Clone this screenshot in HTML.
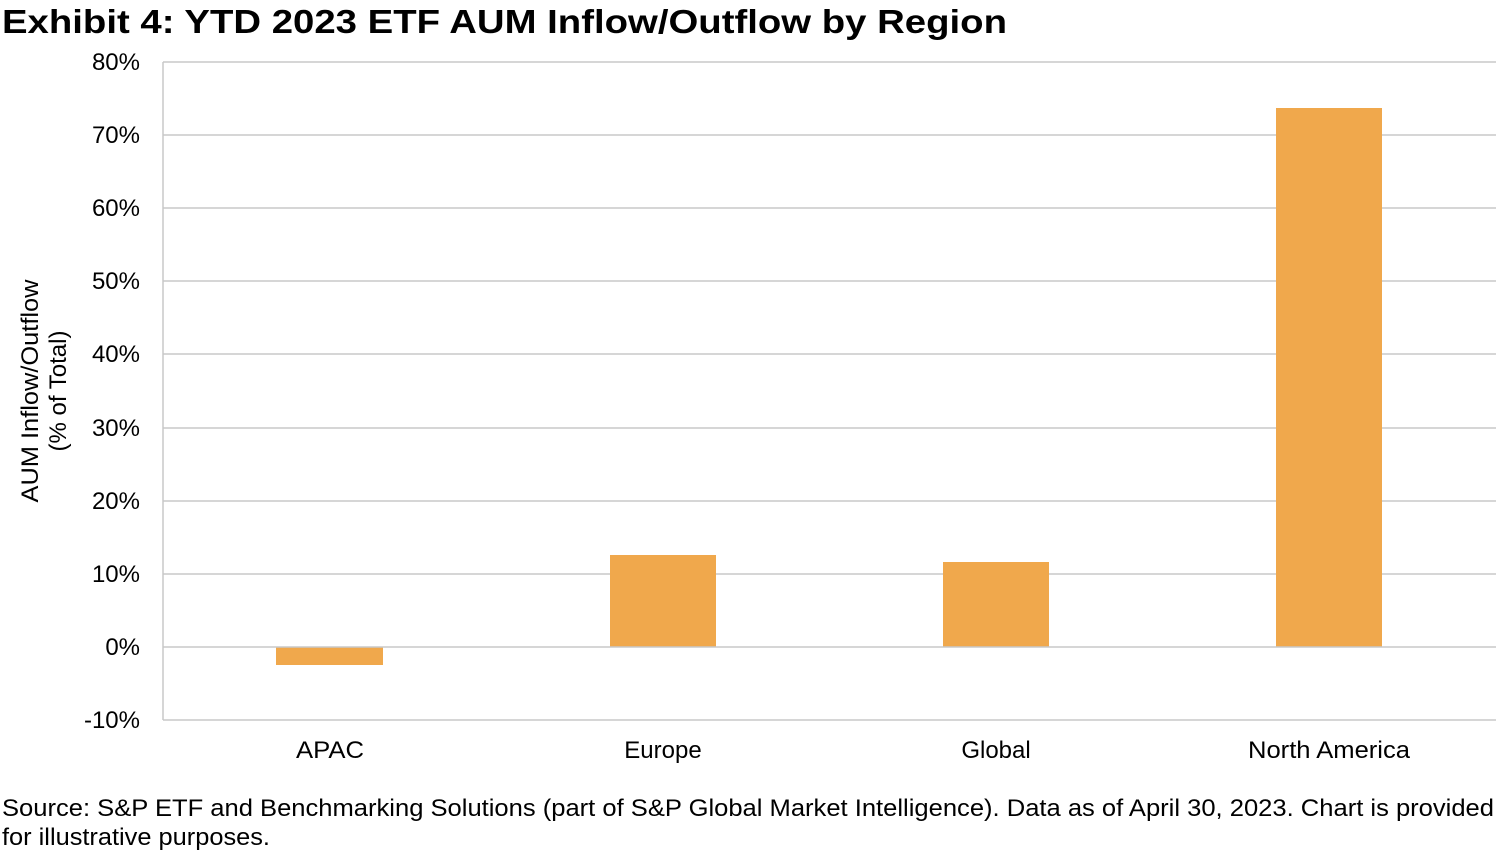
<!DOCTYPE html>
<html><head><meta charset="utf-8"><style>
body{margin:0;background:#fff;width:1496px;height:853px;overflow:hidden;font-family:"Liberation Sans",Arial,sans-serif;}
</style></head><body>
<svg width="1496" height="853" xmlns="http://www.w3.org/2000/svg" font-family="Liberation Sans, Arial, sans-serif">
<text x="2" y="33" font-size="33" font-weight="bold" fill="#000" textLength="1005" lengthAdjust="spacingAndGlyphs">Exhibit 4: YTD 2023 ETF AUM Inflow/Outflow by Region</text>
<g stroke="#c8c8c8" stroke-width="1.5">
<line x1="163" y1="62" x2="1496" y2="62"/>
<line x1="163" y1="135" x2="1496" y2="135"/>
<line x1="163" y1="208" x2="1496" y2="208"/>
<line x1="163" y1="281" x2="1496" y2="281"/>
<line x1="163" y1="354" x2="1496" y2="354"/>
<line x1="163" y1="428" x2="1496" y2="428"/>
<line x1="163" y1="501" x2="1496" y2="501"/>
<line x1="163" y1="574" x2="1496" y2="574"/>
<line x1="163" y1="720" x2="1496" y2="720"/>
<line x1="163" y1="62" x2="163" y2="720"/>
</g>
<g fill="#f0a84c">
<rect x="276" y="647" width="107" height="18"/>
<rect x="610" y="555" width="106" height="92"/>
<rect x="943" y="562" width="106" height="85"/>
<rect x="1276" y="108" width="106" height="539"/>
</g>
<line x1="163" y1="647" x2="1496" y2="647" stroke="#c8c8c8" stroke-width="1.5"/>
<g font-size="24" fill="#000" text-anchor="end">
<text x="140" y="70">80%</text>
<text x="140" y="143">70%</text>
<text x="140" y="216">60%</text>
<text x="140" y="289">50%</text>
<text x="140" y="362">40%</text>
<text x="140" y="436">30%</text>
<text x="140" y="509">20%</text>
<text x="140" y="582">10%</text>
<text x="140" y="655">0%</text>
<text x="140" y="728">-10%</text>
</g>
<g font-size="24" fill="#000" text-anchor="middle">
<text x="330" y="758" textLength="68" lengthAdjust="spacingAndGlyphs">APAC</text>
<text x="663" y="758">Europe</text>
<text x="996" y="758">Global</text>
<text x="1329" y="758" textLength="162" lengthAdjust="spacingAndGlyphs">North America</text>
<text transform="translate(38,391) rotate(-90)" textLength="223" lengthAdjust="spacingAndGlyphs">AUM Inflow/Outflow</text>
<text transform="translate(66,391) rotate(-90)">(% of Total)</text>
</g>
<g font-size="24" fill="#000">
<text x="2" y="816" textLength="1492" lengthAdjust="spacingAndGlyphs">Source: S&amp;P ETF and Benchmarking Solutions (part of S&amp;P Global Market Intelligence). Data as of April 30, 2023. Chart is provided</text>
<text x="2" y="845" textLength="268" lengthAdjust="spacingAndGlyphs">for illustrative purposes.</text>
</g>
</svg>
</body></html>
